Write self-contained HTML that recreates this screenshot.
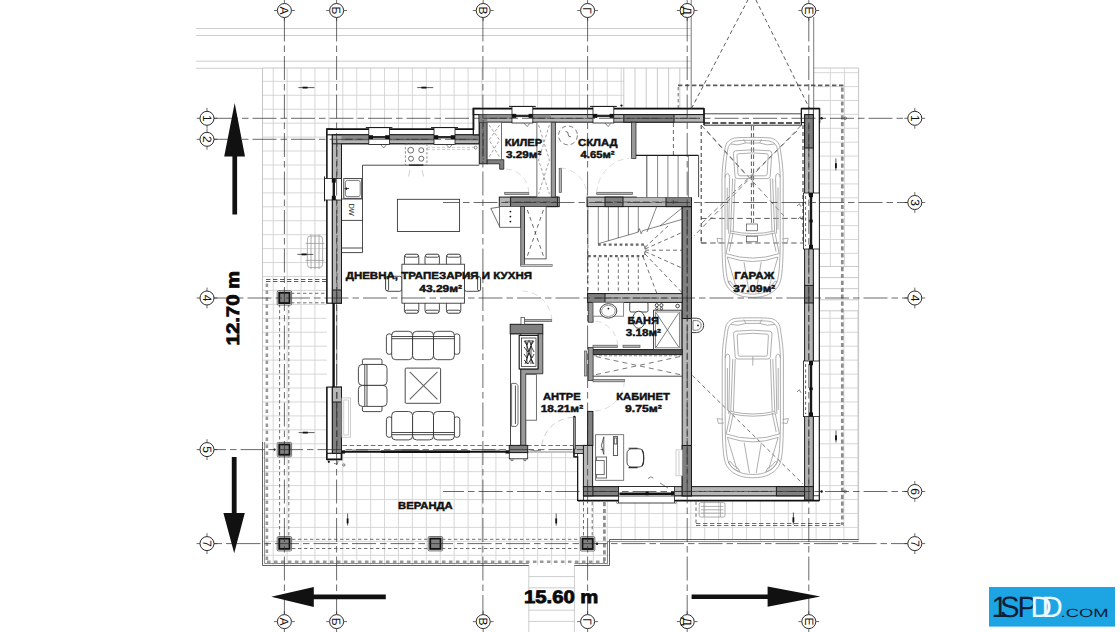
<!DOCTYPE html>
<html lang="bg">
<head>
<meta charset="utf-8">
<title>План на етаж</title>
<style>
html,body{margin:0;padding:0;background:#fff;}
body{width:1120px;height:632px;overflow:hidden;font-family:"Liberation Sans",sans-serif;}
svg{display:block;}
text{text-rendering:geometricPrecision;}
.k{stroke:#1a1a1a;stroke-width:0.8;fill:none;}
.kw{stroke:#1a1a1a;stroke-width:0.8;fill:#fff;}
.th{stroke:#333;stroke-width:0.6;fill:none;}
.fu{stroke:#2c2c2c;stroke-width:0.85;fill:#fff;}
.fl{stroke:#2c2c2c;stroke-width:0.85;fill:none;}
.lg{stroke:#b9b9b9;stroke-width:0.7;fill:none;}
.tile{stroke:#d2d2d2;stroke-width:0.9;fill:none;}
.ol{stroke:#9a9a9a;stroke-width:0.8;fill:none;}
.gr{stroke:#2a2a2a;stroke-width:0.7;fill:none;}
.wd{stroke:#1a1a1a;stroke-width:0.8;fill:#7e7e7e;}
.wl{stroke:#1a1a1a;stroke-width:0.8;fill:#b4b4b4;}
.wn{stroke:none;fill:#8a8a8a;}
.wm{stroke:none;fill:#b8b8b8;}
.car{stroke:#9a9a9a;stroke-width:0.8;fill:none;}
.carw{stroke:#a9a9a9;stroke-width:0.8;fill:#fff;}
.bk{stroke:none;fill:#111;}
.t{font-family:"Liberation Sans",sans-serif;font-weight:bold;fill:#111;stroke:#111;stroke-width:0.45;}
.tb{font-family:"Liberation Sans",sans-serif;font-weight:bold;fill:#0a0a0a;stroke:#0a0a0a;stroke-width:0.8;}
.c{font-family:"Liberation Sans",sans-serif;fill:#111;font-size:12px;text-anchor:middle;}
.sm{font-family:"Liberation Sans",sans-serif;fill:#222;font-size:7.4px;text-anchor:middle;}
</style>
</head>
<body>
<svg width="1120" height="632" viewBox="0 0 1120 632">
<rect x="0" y="0" width="1120" height="632" fill="#fff"/>
<defs>
<clipPath id="cpTile"><path d="M262.5 68H623.8V112H813.6V310.8H858.6V540.5H608.8V565H262.5Z"/></clipPath>
<clipPath id="cpStripe"><rect x="623.8" y="68" width="67.4" height="42"/></clipPath>
</defs>
<g clip-path="url(#cpTile)">
<path class="tile" d="M259.28 68V566M273.2 68V566M287.12 68V566M301.04 68V566M314.96 68V566M328.88 68V566M342.8 68V566M356.72 68V566M370.64 68V566M384.56 68V566M398.48 68V566M412.4 68V566M426.32 68V566M440.24 68V566M454.16 68V566M468.08 68V566M482 68V566M495.92 68V566M509.84 68V566M523.76 68V566M537.68 68V566M551.6 68V566M565.52 68V566M579.44 68V566M593.36 68V566M607.28 68V566M621.2 68V566M635.12 68V566M649.04 68V566M662.96 68V566M676.88 68V566M690.8 68V566M704.72 68V566M718.64 68V566M732.56 68V566M746.48 68V566M760.4 68V566M774.32 68V566M788.24 68V566M802.16 68V566M816.08 68V566M830 68V566M843.92 68V566M857.84 68V566M262 81.34H859M262 95.28H859M262 109.22H859M262 123.16H859M262 137.1H859M262 151.04H859M262 164.98H859M262 178.92H859M262 192.86H859M262 206.8H859M262 220.74H859M262 234.68H859M262 248.62H859M262 262.56H859M262 276.5H859M262 290.44H859M262 304.38H859M262 318.32H859M262 332.26H859M262 346.2H859M262 360.14H859M262 374.08H859M262 388.02H859M262 401.96H859M262 415.9H859M262 429.84H859M262 443.78H859M262 457.72H859M262 471.66H859M262 485.6H859M262 499.54H859M262 513.48H859M262 527.42H859M262 541.36H859M262 555.3H859"/>
</g>
<path class="tile" d="M830.4 68.3V266.5 M844.5 68.3V266.5M813.6 72.7H858.6M813.6 86.6H858.6M813.6 100.5H858.6M813.6 114.4H858.6M813.6 128.3H858.6M813.6 142.2H858.6M813.6 156.1H858.6M813.6 170H858.6M813.6 183.9H858.6M813.6 197.8H858.6M813.6 211.7H858.6M813.6 225.6H858.6M813.6 239.5H858.6M813.6 253.4H858.6"/>
<path class="tile" style="stroke:#c4c4c4" d="M623.8 68V110M635 68V110M646.2 68V110M657.4 68V110M668.6 68V110M679.8 68V110"/>
<path class="tile" style="stroke:#c4c4c4" d="M819.6 266.5H858.6 M819.6 277.6H858.6 M819.6 288.7H858.6 M819.6 299.8H858.6 M819.6 310.8H858.6"/>
<path class="tile" style="stroke:#c0c0c0" d="M262.5 68V443 M262.5 68H691 M858.6 68V540.5 M813.6 68H858.6"/>
<line class="lg" x1="196" y1="28.5" x2="691" y2="28.5"/>
<line class="lg" x1="196" y1="35.5" x2="691" y2="35.5"/>
<line class="lg" x1="196" y1="61.2" x2="691" y2="61.2"/>
<line class="lg" x1="196" y1="68.3" x2="262.5" y2="68.3"/>
<path class="lg" d="M528.8 565V632 M574.4 565V632M528.8 576.6H574.4M528.8 587.8H574.4M528.8 599H574.4M528.8 610.2H574.4M528.8 621.4H574.4"/>
<path class="k" style="stroke-width:1.9;stroke-dasharray:4.4 2.6;stroke:#5c5c5c" d="M678 85.4H843.6"/>
<path class="k" style="stroke-width:2.7;stroke-dasharray:4.2 2.7;stroke:#8c8c8c" d="M842.3 87.6V525"/>
<path class="k" style="stroke-width:0.9;stroke-dasharray:4.4 2.6;stroke:#5c5c5c" d="M696 523.5H843.6 M696 525.5H843.6"/>
<path class="k" style="stroke-width:0.8;stroke-dasharray:3.4 2.6;stroke:#444" d="M678.2 87V109"/>
<path class="k" style="stroke-width:0.9;stroke-dasharray:3.4 2.6;stroke:#555" d="M696 501.5V524"/>
<path class="k" style="stroke-width:2.6;stroke-dasharray:3.6 3.4;stroke:#999" d="M266.9 283.5V562"/>
<path class="k" style="stroke-width:0.9;stroke-dasharray:4.4 2.6;stroke:#4a4a4a" d="M266 279.5H327.3 M266 281.5H327.3"/>
<path class="k" style="stroke-width:2.6;stroke-dasharray:3.6 3.4;stroke:#999" d="M266.9 561.8H605"/>
<path class="k" style="stroke-width:2.7;stroke-dasharray:4.2 2.7;stroke:#8c8c8c" d="M604.4 502V561"/>
<path class="k" style="stroke-width:0.7;stroke-dasharray:3.4 2.6;stroke:#333" d="M279.6 304V537 M288.8 304V537"/>
<path class="k" style="stroke-width:0.7;stroke-dasharray:3.4 2.6;stroke:#333" d="M291 293.3H327 M291 302.8H327"/>
<path class="k" style="stroke-width:0.7;stroke-dasharray:3.4 2.6;stroke:#333" d="M292 539.3H428 M292 548.5H428 M442 539.3H580 M442 548.5H580"/>
<path class="k" style="stroke-width:0.7;stroke-dasharray:3.4 2.6;stroke:#333" d="M583.5 502V537 M592.2 502V537"/>
<path class="k" style="stroke-width:0.85;stroke:#444" d="M262.5 442V565.5H528.8 M574.4 565.5H609.5V539.5H858.6"/>
<path class="k" style="stroke-width:0.75;stroke:#666" d="M264.6 442V563.5H528.8 M574.4 563.5H607.5V541.6H858.6"/>
<path d="M326.8 129.1H473.4V108.5H819.7V500.6H577.5V453H341.5V459.5H326.8Z" fill="#fff" stroke="none"/>
<rect class="kw" style="stroke-width:1.15" x="326.8" y="129.1" width="5.6" height="174.1"/>
<rect class="k" style="fill:#b6b6b6;stroke-width:1" x="332.4" y="134.8" width="9.1" height="168.4"/>
<rect class="k" style="fill:#808080;stroke-width:1" x="332.4" y="290" width="9.1" height="13.2"/>
<rect class="kw" style="stroke-width:1.15" x="326.8" y="387.1" width="5.6" height="72.4"/>
<rect class="kw" style="stroke-width:1.15" x="326.8" y="453.3" width="14.7" height="6.2"/>
<rect class="k" style="fill:#808080;stroke-width:1" x="332.4" y="387.1" width="9.1" height="66.2"/>
<rect class="k" style="fill:#b6b6b6;stroke-width:1" x="332.4" y="387.1" width="9.1" height="14.9"/>
<line class="k" style="stroke-width:2.4;stroke:#111" x1="333.6" y1="303.2" x2="333.6" y2="387.1"/>
<line class="th" x1="336.8" y1="305" x2="336.8" y2="385"/>
<rect class="kw" style="stroke-width:1.15" x="326.8" y="129.1" width="146.6" height="5.7"/>
<rect class="k" style="fill:#b6b6b6;stroke-width:1" x="332.4" y="134.8" width="146.9" height="9"/>
<rect class="wn" x="341.5" y="134.8" width="137.8" height="5.8"/>
<line class="k" x1="332.4" y1="134.8" x2="479.3" y2="134.8"/>
<line class="k" x1="341.5" y1="143.8" x2="479.3" y2="143.8"/>
<rect class="kw" style="stroke-width:1.15" x="473.4" y="108.5" width="5.9" height="26.3"/>
<rect class="k" style="fill:#808080;stroke-width:1" x="479.3" y="114.6" width="7.9" height="49.2"/>
<path class="k" style="fill:#808080" d="M487.2 159.7H503.8V169.2H499.7V163.8H487.2Z"/>
<rect class="kw" style="stroke-width:1.15" x="473.4" y="108.5" width="230.6" height="6.1"/>
<rect class="k" style="fill:#b6b6b6;stroke-width:1" x="479.3" y="114.6" width="224.7" height="7.6"/>
<rect class="wm" style="fill:#8e8e8e" x="487.2" y="114.6" width="63.8" height="4"/>
<rect class="k" style="fill:#808080;stroke-width:1" x="623.8" y="114.6" width="50.2" height="7.6"/>
<rect class="wn" style="fill:#808080" x="479.3" y="114.6" width="7.9" height="7.6"/>
<line class="k" style="stroke-width:1" x1="704" y1="108.5" x2="704" y2="125"/>
<rect class="kw" style="stroke-width:1.15" x="801.4" y="108.5" width="18.3" height="14.1"/>
<rect class="kw" style="stroke-width:0.8" x="813.3" y="108.5" width="6" height="392.1"/>
<rect class="k" style="fill:#b6b6b6;stroke-width:1" x="804.6" y="114.6" width="8.7" height="381.2"/>
<rect class="k" style="fill:#808080;stroke-width:1" x="804.6" y="114.6" width="8.7" height="33.4"/>
<rect class="k" style="fill:#808080;stroke-width:1" x="804.6" y="285.4" width="8.7" height="17.6"/>
<rect class="kw" style="stroke-width:0.8" x="577.5" y="495.8" width="241.8" height="4.8"/>
<rect class="k" style="fill:#b6b6b6;stroke-width:1" x="583.5" y="486.6" width="229.8" height="9.2"/>
<rect class="k" style="fill:#808080;stroke-width:1" x="583.5" y="486.6" width="35.1" height="9.2"/>
<rect class="k" style="fill:#808080;stroke-width:1" x="776.4" y="486.6" width="36.9" height="9.2"/>
<rect class="k" style="fill:#808080;stroke-width:1" x="804.6" y="486.6" width="8.7" height="13.6"/>
<path class="k" style="stroke-width:1" d="M573.9 445.4V456.8H577.6V500.6"/>
<rect class="k" style="fill:#b6b6b6;stroke-width:0.9" x="573.9" y="445.4" width="13.7" height="8.2"/>
<rect class="kw" style="stroke-width:0.8" x="577.6" y="453.6" width="5.8" height="47"/>
<rect class="k" style="fill:#b6b6b6;stroke-width:1" x="583.4" y="445.4" width="9.2" height="41.6"/>
<rect class="k" style="fill:#808080;stroke-width:1" x="587.6" y="411.4" width="5.3" height="34"/>
<rect class="k" style="fill:#808080;stroke-width:1" x="583.4" y="486.6" width="9.5" height="9.2"/>
<rect class="k" style="fill:#b6b6b6;stroke-width:1" x="682.2" y="206.6" width="9.3" height="289.2"/>
<rect class="k" style="fill:#808080;stroke-width:1" x="682.2" y="206.6" width="9.3" height="111.9"/>
<rect class="k" style="fill:#808080;stroke-width:1" x="682.2" y="445.5" width="9.3" height="50.3"/>
<rect class="k" style="fill:#b6b6b6;stroke-width:1" x="499.3" y="197.1" width="59.9" height="9.5"/>
<rect class="k" style="fill:#808080;stroke-width:1" x="510.6" y="197.1" width="46.8" height="9.5"/>
<rect class="k" style="fill:#b6b6b6;stroke-width:1" x="587" y="197.1" width="104.5" height="9.5"/>
<rect class="k" style="fill:#808080;stroke-width:1" x="605" y="197.1" width="18" height="9.5"/>
<rect class="k" style="fill:#808080;stroke-width:1" x="666" y="197.1" width="25.5" height="9.5"/>
<rect class="k" style="fill:#b6b6b6;stroke-width:1" x="587.6" y="293.6" width="94.6" height="8.8"/>
<rect class="k" style="fill:#808080;stroke-width:1" x="587.6" y="293.6" width="17.4" height="8.8"/>
<rect class="k" style="fill:#9a9a9a;stroke-width:0.7" x="551.2" y="122.2" width="4.4" height="74.9"/>
<rect class="k" style="fill:#9a9a9a;stroke-width:0.7" x="631.6" y="122.2" width="4.4" height="36.3"/>
<rect class="k" style="fill:#9a9a9a;stroke-width:0.7" x="588.2" y="302.4" width="4.9" height="19.8"/>
<rect class="k" style="fill:#555;stroke-width:1" x="591.6" y="349.6" width="90.6" height="5"/>
<rect class="k" style="fill:#9a9a9a;stroke-width:0.7" x="588.2" y="347.5" width="4.9" height="33"/>
<rect class="kw" style="stroke-width:0.8" x="510.4" y="333.8" width="10.4" height="111.6"/>
<rect class="k" style="fill:#808080;stroke-width:1" x="510.2" y="324.3" width="32.6" height="9.5"/>
<path class="k" style="fill:#9a9a9a" d="M538 333.8H542.8V373.8H525.8V445.4H520.8V369H538Z"/>
<rect class="kw" style="stroke-width:1.15" x="519.2" y="335.4" width="18.8" height="33.6"/>
<rect class="kw" style="stroke-width:0.7" x="521.4" y="338" width="14.6" height="28.6"/>
<path class="k" style="stroke-width:0.8" d="M524 341l3 4l2-5l2 5l3-4 M524 347l4 5l3-6l3 6 M524 354l3 4l2-5l3 5l2-4 M524 360l4 4l3-5l3 5 M525 340l8 24 M533 340l-8 24 M527 340v24 M531 340v24"/>
<rect class="kw" style="stroke-width:0.8" x="509.3" y="452.4" width="18.4" height="6.4"/>
<rect class="k" style="fill:#808080;stroke-width:1" x="509.3" y="445.4" width="18.4" height="7.2"/>
<path class="th" d="M511 458.8v1.8h2v-1.8 M524 458.8v1.8h2v-1.8"/>
<path class="k" style="stroke-width:1.6;stroke:#111" d="M326.3 129.2H473.5V108.6H704 M801.4 108.6H819.4 M819.4 500.6H577.7 M326.9 459.4H341.5V453"/>
<path class="k" style="stroke-width:1.2;stroke:#1a1a1a" d="M326.9 303.2V129.2 M473.5 129.2V108.6 M326.9 387.1V459.4 M577.7 500.6V456.8H574V445.4"/>
<line class="k" style="stroke-width:1;stroke:#222" x1="819.3" y1="108.6" x2="819.3" y2="500.6"/>
<line class="k" style="stroke-width:0.7;stroke-dasharray:7 2.5;stroke:#3a3a3a" x1="337" y1="140" x2="337" y2="300"/>
<line class="k" style="stroke-width:0.7;stroke-dasharray:7 2.5;stroke:#3a3a3a" x1="337" y1="392" x2="337" y2="450"/>
<line class="k" style="stroke-width:0.7;stroke-dasharray:7 2.5;stroke:#3a3a3a" x1="345" y1="139.3" x2="476" y2="139.3"/>
<line class="k" style="stroke-width:0.7;stroke-dasharray:7 2.5;stroke:#3a3a3a" x1="483.2" y1="120" x2="483.2" y2="160"/>
<line class="k" style="stroke-width:0.7;stroke-dasharray:7 2.5;stroke:#3a3a3a" x1="490" y1="118.3" x2="700" y2="118.3"/>
<line class="k" style="stroke-width:0.7;stroke-dasharray:7 2.5;stroke:#3a3a3a" x1="808.8" y1="125" x2="808.8" y2="486"/>
<line class="k" style="stroke-width:0.7;stroke-dasharray:7 2.5;stroke:#3a3a3a" x1="590" y1="491.4" x2="805" y2="491.4"/>
<line class="k" style="stroke-width:0.7;stroke-dasharray:7 2.5;stroke:#3a3a3a" x1="687.2" y1="210" x2="687.2" y2="484"/>
<line class="k" style="stroke-width:0.7;stroke-dasharray:7 2.5;stroke:#3a3a3a" x1="595" y1="202" x2="680" y2="202"/>
<line class="k" style="stroke-width:0.7;stroke-dasharray:7 2.5;stroke:#3a3a3a" x1="595" y1="298" x2="680" y2="298"/>
<line class="k" style="stroke-width:0.7;stroke-dasharray:7 2.5;stroke:#3a3a3a" x1="505" y1="202" x2="556" y2="202"/>
<rect class="kw" style="stroke-width:0.8" x="368.8" y="127.6" width="20.6" height="16.8"/>
<line class="k" style="stroke-width:1" x1="365.8" y1="127.6" x2="392.4" y2="127.6"/>
<line class="k" style="stroke-width:2.4;stroke:#2a2a2a" x1="370.8" y1="137.2" x2="387.4" y2="137.2"/>
<rect class="bk" x="368.8" y="135.2" width="4.2" height="4"/>
<rect class="bk" x="385.2" y="135.2" width="4.2" height="4"/>
<path class="th" d="M380.4 144.4l3.4 3.6l2.6-3.2"/>
<rect class="kw" style="stroke-width:0.8" x="434" y="127.6" width="21" height="16.8"/>
<line class="k" style="stroke-width:1" x1="431" y1="127.6" x2="458" y2="127.6"/>
<line class="k" style="stroke-width:2.4;stroke:#2a2a2a" x1="436" y1="137.2" x2="453" y2="137.2"/>
<rect class="bk" x="434" y="135.2" width="4.2" height="4"/>
<rect class="bk" x="450.8" y="135.2" width="4.2" height="4"/>
<path class="th" d="M446 144.4l3.4 3.6l2.6-3.2"/>
<rect class="kw" style="stroke-width:0.8" x="512" y="106.4" width="20.8" height="16.6"/>
<line class="k" style="stroke-width:1" x1="509" y1="106.4" x2="535.8" y2="106.4"/>
<line class="k" style="stroke-width:2.4;stroke:#2a2a2a" x1="514" y1="115.9" x2="530.8" y2="115.9"/>
<rect class="bk" x="512" y="113.9" width="4.2" height="4"/>
<rect class="bk" x="528.6" y="113.9" width="4.2" height="4"/>
<path class="th" d="M523.8 123l3.4 3.6l2.6-3.2"/>
<rect class="kw" style="stroke-width:0.8" x="593" y="106.4" width="20.8" height="16.6"/>
<line class="k" style="stroke-width:1" x1="590" y1="106.4" x2="616.8" y2="106.4"/>
<line class="k" style="stroke-width:2.4;stroke:#2a2a2a" x1="595" y1="115.9" x2="611.8" y2="115.9"/>
<rect class="bk" x="593" y="113.9" width="4.2" height="4"/>
<rect class="bk" x="609.6" y="113.9" width="4.2" height="4"/>
<path class="th" d="M604.8 123l3.4 3.6l2.6-3.2"/>
<circle class="bk" cx="621.5" cy="105.6" r="1.1"/>
<rect class="kw" style="stroke-width:0.8" x="324.6" y="178.4" width="16.8" height="21.6"/>
<line class="k" style="stroke-width:2.4;stroke:#1a1a1a" x1="333.8" y1="180.4" x2="333.8" y2="198"/>
<rect class="bk" x="331.8" y="178.4" width="4" height="4.2"/>
<rect class="bk" x="331.8" y="195.8" width="4" height="4.2"/>
<line class="k" style="stroke-width:0.9" x1="324.5" y1="176.4" x2="324.5" y2="201.4"/>
<rect class="kw" style="stroke-width:0.8" x="803.4" y="193" width="15.9" height="56"/>
<line class="k" style="stroke-width:2.4;stroke:#1a1a1a" x1="811" y1="195" x2="811" y2="247"/>
<rect class="bk" x="809" y="193" width="4" height="4.2"/>
<rect class="bk" x="809" y="244.8" width="4" height="4.2"/>
<rect class="bk" x="809.3" y="219.6" width="3.4" height="2.8"/>
<rect class="kw" style="stroke-width:0.8" x="803.4" y="361" width="15.9" height="55.6"/>
<line class="k" style="stroke-width:2.4;stroke:#1a1a1a" x1="811" y1="363" x2="811" y2="414.6"/>
<rect class="bk" x="809" y="361" width="4" height="4.2"/>
<rect class="bk" x="809" y="412.4" width="4" height="4.2"/>
<rect class="bk" x="809.3" y="387.4" width="3.4" height="2.8"/>
<line class="k" style="stroke-width:0.7;stroke-dasharray:3 2.4" x1="805.6" y1="196" x2="805.6" y2="246"/>
<line class="k" style="stroke-width:0.7;stroke-dasharray:3 2.4" x1="805.6" y1="364" x2="805.6" y2="414"/>
<path class="th" d="M797 206l2.4-2.2l1.6 3 M797 392l2.4-2.2l1.6 3"/>
<rect class="kw" style="stroke-width:0.8" x="618.6" y="486.5" width="56" height="16.5"/>
<line class="k" style="stroke-width:2.8;stroke:#111" x1="619.4" y1="493.8" x2="674" y2="493.8"/>
<line class="th" x1="618.6" y1="496.2" x2="674.6" y2="496.2"/>
<rect class="bk" x="645.6" y="491.6" width="3" height="3.6"/>
<rect class="bk" x="671" y="491.4" width="3" height="4"/>
<path class="th" d="M616.2 501.5l1.4 2.6 M676.8 501.5l-1.4 2.6"/>
<path class="th" d="M648 478.5q3-3 5.4-.4 M660 483l8 5"/>
<line class="k" style="stroke-width:0.7;stroke-dasharray:4.5 2.6;stroke:#333" x1="342.5" y1="445.5" x2="575" y2="445.5"/>
<line class="k" style="stroke-width:1.9;stroke:#111" x1="342.5" y1="451.8" x2="509" y2="451.8"/>
<line class="k" style="stroke-width:2.6;stroke:#111" x1="381" y1="451.8" x2="470" y2="451.8"/>
<rect class="bk" x="341.6" y="450.4" width="3.4" height="3.2"/>
<rect class="bk" x="505.6" y="450.4" width="3.4" height="3.2"/>
<line class="th" x1="352" y1="450" x2="368" y2="450"/>
<line class="th" x1="402" y1="450" x2="420" y2="450"/>
<line class="th" x1="484" y1="450" x2="500" y2="450"/>
<circle class="bk" cx="328.8" cy="461.8" r="1.1"/>
<circle class="th" cx="343.8" cy="465" r="1.2"/>
<path class="th" d="M334 463.4l3.4 .8l.6-3.2"/>
<line class="th" x1="527.7" y1="452" x2="575" y2="452"/>
<path class="th" d="M529 449.6l6 1.2l6-.6"/>
<rect class="k" style="fill:#9a9a9a;stroke-width:0.6" x="573.3" y="416.8" width="2.2" height="32.2"/>
<path class="lg" style="stroke-dasharray:6 4" d="M573.5 417.5A32 32 0 0 0 541.5 449"/>
<circle class="bk" cx="574.4" cy="416.6" r="0.9"/>
<line class="k" style="stroke-width:0.8" x1="704" y1="113.8" x2="801.4" y2="113.8"/>
<line class="k" style="stroke-width:1.6;stroke-dasharray:6 2.2;stroke:#222" x1="704" y1="123" x2="801.4" y2="123"/>
<line class="k" style="stroke-width:0.9" x1="704" y1="125.2" x2="801.4" y2="125.2"/>
<line class="k" style="stroke-width:1.1" x1="704" y1="108.5" x2="704" y2="125.2"/>
<line class="k" style="stroke-width:1.1" x1="801.4" y1="108.5" x2="801.4" y2="125.2"/>
<path class="k" style="stroke-width:1;stroke-dasharray:4 3;stroke:#333" d="M701.2 125V243 M803 125V243"/>
<path class="k" style="stroke-width:0.8;stroke-dasharray:5.5 3.5;stroke:#333" d="M701.2 243H803 M701.2 218.4H803"/>
<path class="k" style="stroke-width:0.8;stroke-dasharray:4.5 2.6;stroke:#333" d="M751.4 126V224 M753.6 126V224"/>
<path class="k" style="stroke-width:0.7;stroke-dasharray:5 3.5;stroke:#444" d="M701.5 125.5L747 176 M801 125.5L694 236 M707 131L784 216 M797 131L699 226"/>
<rect class="th" x="746.6" y="224" width="11" height="6.8"/>
<rect class="th" x="746.6" y="236.2" width="11" height="5.6"/>
<path class="th" d="M701.2 238v5h5 M798 219l2.4-2.2l1.6 3"/>
<path class="k" style="stroke-width:0.8;stroke-dasharray:4 3;stroke:#444" d="M673.4 123V206"/>
<path class="k" style="stroke-width:0.8;stroke-dasharray:4 3;stroke:#333" d="M691.5 108.5L752 -8L809.5 108.5"/>
<path class="k" style="stroke-width:0.7;stroke-dasharray:4 3;stroke:#333" d="M692.4 375.5L803 484"/>
<line class="k" style="stroke-width:0.7;stroke:#444" x1="691.2" y1="0" x2="691.2" y2="108.5"/>
<line class="k" style="stroke-width:0.7;stroke:#444" x1="813.7" y1="17" x2="813.7" y2="108.5"/>
<rect class="k" style="fill:#b4b4b4;stroke-width:0.7;stroke:#555" x="504.7" y="192.3" width="24.1" height="2.1"/>
<rect class="k" style="fill:#b4b4b4;stroke-width:0.7;stroke:#555" x="596.7" y="192.3" width="35.8" height="2.1"/>
<rect class="k" style="fill:#b4b4b4;stroke-width:0.7;stroke:#555" x="559.2" y="168.6" width="2.4" height="23.8"/>
<rect class="k" style="fill:#b4b4b4;stroke-width:0.7;stroke:#555" x="521.3" y="319.6" width="30.4" height="2"/>
<rect class="kw" style="stroke-width:0.6" x="521" y="317.6" width="3.6" height="6.7"/>
<rect class="k" style="fill:#b4b4b4;stroke-width:0.7;stroke:#555" x="593" y="345.2" width="24.5" height="2.2"/>
<rect class="k" style="fill:#b4b4b4;stroke-width:0.7;stroke:#555" x="623" y="345.2" width="17" height="2.2"/>
<rect class="k" style="fill:#b4b4b4;stroke-width:0.7;stroke:#555" x="593" y="379.6" width="31.4" height="2.2"/>
<rect class="k" style="fill:#b4b4b4;stroke-width:0.7;stroke:#555" x="584.4" y="351" width="2.4" height="25"/>
<path class="lg" style="stroke-width:0.5;stroke-dasharray:6 4" d="M528.8 193A24 24 0 0 0 504.7 169"/>
<path class="lg" style="stroke-width:0.5;stroke-dasharray:6 4" d="M596.7 193A36 36 0 0 1 632.5 158"/>
<path class="lg" style="stroke-width:0.5;stroke-dasharray:6 4" d="M560 168A28 28 0 0 1 587 196"/>
<path class="lg" style="stroke-width:0.5;stroke-dasharray:6 4" d="M551.7 320.5A30 30 0 0 0 522 291"/>
<path class="lg" style="stroke-width:0.5;stroke-dasharray:6 4" d="M617.5 346A25 25 0 0 0 593 321"/>
<path class="lg" style="stroke-width:0.5;stroke-dasharray:6 4" d="M624.4 381A31 31 0 0 1 593.5 411"/>
<rect class="wn" style="fill:#fff" x="636.8" y="155.2" width="61.7" height="42"/>
<path class="k" style="stroke-width:0.8" d="M646.8 155.4V197.2 M698.6 155.4V197.2"/>
<line class="k" style="stroke-width:1.4" x1="636" y1="155.4" x2="698.5" y2="155.4"/>
<path class="th" d="M657.6 155.4V197.2M667.9 155.4V197.2M678.1 155.4V197.2M688.4 155.4V197.2"/>
<path class="th" d="M587.9 206.6V244.4M598.3 206.6V243.8M608.4 206.6V240.8M618.3 206.6V238M628.4 206.6V235M638.3 206.6V232.2"/>
<path class="th" d="M598.3 243.7L638 232.2l1.4-3.6l1.8 5.2l1.2-3L682.2 219.4"/>
<path class="th" d="M647 232L656.7 206.6 M660 226L682 208"/>
<path class="k" style="stroke-width:2.3;stroke-dasharray:2.8 2.6;stroke:#666" d="M598 244.6H644 M588 256.2H644"/>
<path class="k" style="stroke-width:0.8;stroke-dasharray:3.4 2.6;stroke:#333" d="M587.9 245V293 M644.8 245.5V256"/>
<path class="k" style="stroke-width:0.7;stroke-dasharray:3.4 2.6;stroke:#333" d="M598.3 257.5V293.4M608.4 257.5V293.4M618.3 257.5V293.4M628.4 257.5V293.4M638.3 257.5V293.4"/>
<path class="k" style="stroke-width:0.7;stroke-dasharray:4 3;stroke:#333" d="M645 249L682 232.5 M645 250.2H682 M645 251.5L682 268 M645 254L682 292.6 M643 256.5L656.8 293.4 M645 247.5L668 226"/>
<path class="fl" d="M362.5 248V165.2H479.3"/>
<line class="fl" x1="341.5" y1="248" x2="362.5" y2="248"/>
<line class="fl" x1="341.5" y1="252.6" x2="362.5" y2="252.6"/>
<line class="fl" x1="362.5" y1="248" x2="362.5" y2="252.6"/>
<line class="fl" x1="341.5" y1="220.4" x2="362.5" y2="220.4"/>
<line class="fl" x1="341.5" y1="199" x2="362.5" y2="199"/>
<rect class="fl" style="stroke-dasharray:2.4 1.8;stroke:#777" x="405.4" y="144.2" width="21.5" height="21"/>
<circle class="fl" style="stroke:#555" cx="410.7" cy="150.2" r="2.9"/>
<circle class="fl" style="stroke:#555" cx="421.3" cy="150.2" r="2.5"/>
<circle class="fl" style="stroke:#555" cx="411" cy="158.7" r="2.5"/>
<circle class="fl" style="stroke:#555" cx="421.3" cy="158.7" r="2.5"/>
<path class="lg" d="M410 170l-1.4 6.4 M422 170l1.6 6.4"/>
<line class="k" style="stroke-width:1.3" x1="409" y1="165.1" x2="423.4" y2="165.1"/>
<path class="lg" style="stroke-dasharray:3 2" d="M427 147.4H476 M427 149.6H470"/>
<circle class="fl" style="stroke:#777" cx="475.6" cy="147.6" r="1.5"/>
<rect class="fu" x="343.8" y="178.6" width="17.9" height="19.7"/>
<rect class="fu" style="stroke:#666" x="345.4" y="180.4" width="14.8" height="16.2" rx="2"/>
<path class="k" style="stroke-width:0.9" d="M344.5 188.6h4.5 M346.4 187.4v2.6"/>
<text class="sm" transform="translate(352 209.6) rotate(90)" x="0" y="2.6">DW</text>
<rect class="fu" x="397.4" y="199.3" width="62.2" height="32.2"/>
<g transform="translate(411.6 259.6) rotate(0)">
<rect class="fu" x="-7.2" y="-5" width="14.4" height="11" rx="2.4"/>
<rect class="fu" x="-6.6" y="-5.4" width="13.2" height="3" rx="1.4"/>
</g>
<g transform="translate(411.6 307.8) rotate(180)">
<rect class="fu" x="-7.2" y="-5" width="14.4" height="11" rx="2.4"/>
<rect class="fu" x="-6.6" y="-5.4" width="13.2" height="3" rx="1.4"/>
</g>
<g transform="translate(432.2 259.6) rotate(0)">
<rect class="fu" x="-7.2" y="-5" width="14.4" height="11" rx="2.4"/>
<rect class="fu" x="-6.6" y="-5.4" width="13.2" height="3" rx="1.4"/>
</g>
<g transform="translate(432.2 307.8) rotate(180)">
<rect class="fu" x="-7.2" y="-5" width="14.4" height="11" rx="2.4"/>
<rect class="fu" x="-6.6" y="-5.4" width="13.2" height="3" rx="1.4"/>
</g>
<g transform="translate(453.6 259.6) rotate(0)">
<rect class="fu" x="-7.2" y="-5" width="14.4" height="11" rx="2.4"/>
<rect class="fu" x="-6.6" y="-5.4" width="13.2" height="3" rx="1.4"/>
</g>
<g transform="translate(453.6 307.8) rotate(180)">
<rect class="fu" x="-7.2" y="-5" width="14.4" height="11" rx="2.4"/>
<rect class="fu" x="-6.6" y="-5.4" width="13.2" height="3" rx="1.4"/>
</g>
<g transform="translate(391 283.8) rotate(-90)">
<rect class="fu" x="-7.5" y="-5" width="15" height="16" rx="2.4"/>
<rect class="fu" x="-6.9" y="-5.4" width="13.8" height="3" rx="1.4"/>
</g>
<g transform="translate(475.2 283.8) rotate(90)">
<rect class="fu" x="-7.5" y="-5" width="15" height="16" rx="2.4"/>
<rect class="fu" x="-6.9" y="-5.4" width="13.8" height="3" rx="1.4"/>
</g>
<rect class="fu" x="401.9" y="264.2" width="62.5" height="39"/>
<g transform="translate(386.4 331.3)">
<rect class="fu" x="0" y="2.6" width="6" height="20.4" rx="2.6"/>
<rect class="fu" x="67.4" y="2.6" width="6" height="20.4" rx="2.6"/>
<rect class="fu" x="5.3" y="0" width="20.9" height="28.4" rx="4"/>
<rect class="fu" x="26.2" y="0" width="20.9" height="28.4" rx="4"/>
<rect class="fu" x="47.1" y="0" width="20.9" height="28.4" rx="4"/>
<path class="fl" d="M5.6 5.2H68 M5.6 7.4H68"/>
</g>
<g transform="translate(386.4 439.9) scale(1 -1)">
<rect class="fu" x="0" y="2.6" width="6" height="20.4" rx="2.6"/>
<rect class="fu" x="67.4" y="2.6" width="6" height="20.4" rx="2.6"/>
<rect class="fu" x="5.3" y="0" width="20.9" height="28.4" rx="4"/>
<rect class="fu" x="26.2" y="0" width="20.9" height="28.4" rx="4"/>
<rect class="fu" x="47.1" y="0" width="20.9" height="28.4" rx="4"/>
<path class="fl" d="M5.6 5.2H68 M5.6 7.4H68"/>
</g>
<g transform="translate(358.4 359)">
<rect class="fu" x="4" y="0" width="19.6" height="6" rx="1.6"/>
<rect class="fu" x="4" y="46.6" width="19.6" height="6" rx="1.6"/>
<rect class="fu" x="0" y="5.4" width="28.6" height="21" rx="4"/>
<rect class="fu" x="0" y="26.4" width="28.6" height="21" rx="4"/>
<path class="fl" d="M6.4 5.6V47 M8.6 5.6V47"/>
</g>
<rect class="fu" x="405.2" y="368.1" width="35.4" height="35.2" rx="1"/>
<path class="fl" style="stroke-width:1.1;stroke:#666" d="M409.7 371.8L437.4 399.4 M437.4 371.8L409.7 399.4"/>
<path class="fu" style="stroke:#555" d="M511.6 383.4h4.6l1.8 2.2V424l-1.8 2.4h-4.6Z"/>
<line class="fl" x1="515.4" y1="385.6" x2="515.4" y2="424"/>
<rect class="fu" style="stroke:#555" x="525.8" y="374.6" width="10.6" height="45.6"/>
<rect class="lg" style="fill:#fff" x="341.9" y="397.9" width="8.5" height="39.3"/>
<rect class="lg" x="343.8" y="400" width="4.8" height="35"/>
<rect class="lg" style="fill:#fff" x="676" y="449.9" width="6.2" height="25.9"/>
<line class="lg" x1="679" y1="451" x2="679" y2="475"/>
<rect class="fu" style="stroke:#555" x="499.6" y="206.6" width="21.2" height="20.7"/>
<circle class="bk" cx="510.4" cy="211.6" r="0.9"/>
<circle class="bk" cx="510.4" cy="216.6" r="0.9"/>
<circle class="bk" cx="510.4" cy="221.6" r="0.9"/>
<path class="fl" style="stroke:#555" d="M499.6 207L490.8 208.4L499.6 226.6"/>
<rect class="fu" style="stroke:#444" x="524.6" y="206.6" width="21.5" height="52.3"/>
<path class="k" style="stroke-width:0.8;stroke-dasharray:4 3.4;stroke:#444" d="M527.4 210L543.4 256 M543.4 210L527.4 256"/>
<rect class="k" style="fill:#9a9a9a;stroke-width:0.7" x="520.8" y="206.6" width="3.8" height="59.3"/>
<rect class="k" style="fill:#c9c9c9;stroke-width:0.6;stroke:#666" x="520.8" y="264.4" width="31.4" height="2.2"/>
<rect class="fu" style="stroke:#555" x="487.2" y="122.2" width="14.3" height="37.5"/>
<path class="k" style="stroke-width:0.6;stroke-dasharray:3 2;stroke:#666" d="M489 125L499.6 140L489 157 M499.6 125L489 140L499.6 157"/>
<rect class="fu" style="stroke:#555" x="536.9" y="122.2" width="14.3" height="74.9"/>
<path class="k" style="stroke-width:0.6;stroke-dasharray:3 2;stroke:#666" d="M538.6 125L549.4 160L538.6 194 M549.4 125L538.6 160L549.4 194"/>
<circle class="fl" style="stroke:#666;stroke-dasharray:4.5 3" cx="568" cy="135.4" r="9.4"/>
<path class="fl" style="stroke:#555" d="M565.6 131.6q2.6-.4 2.6 2.6t2.8 2.6"/>
<rect class="fu" style="stroke:#777" x="593.1" y="302.4" width="30.5" height="13.8"/>
<ellipse class="fu" style="stroke-width:0.9" cx="608.4" cy="310.9" rx="8.4" ry="7.2"/>
<ellipse class="fl" style="stroke:#888" cx="608.4" cy="310.9" rx="6.8" ry="5.6"/>
<circle class="bk" cx="608.4" cy="308.6" r="0.9"/>
<rect class="fu" x="629.7" y="302.4" width="18.3" height="9.6" rx="1.5"/>
<ellipse class="fu" cx="638.8" cy="319.8" rx="6.2" ry="8.6"/>
<rect class="fu" style="stroke-width:0.9" x="653.6" y="310.2" width="27.6" height="39.4"/>
<rect class="fl" style="stroke:#777" x="655.4" y="312" width="24" height="35.8"/>
<path class="fl" style="stroke:#666" d="M656.2 313L678.6 347 M678.6 313L656.2 347"/>
<circle class="fl" cx="656.8" cy="305.2" r="1.6"/>
<circle class="fl" cx="661.4" cy="305.2" r="1.6"/>
<circle class="fl" cx="656.8" cy="308.6" r="1.2"/>
<circle class="fl" cx="661.4" cy="308.6" r="1.2"/>
<circle class="fl" cx="677.6" cy="306" r="1.8"/>
<line class="fl" x1="593.1" y1="376.2" x2="682.2" y2="376.2"/>
<path class="k" style="stroke-width:0.7;stroke-dasharray:5 4;stroke:#444" d="M596 356.6L680 374.6 M596 374.6L680 356.6"/>
<path class="k" style="stroke-width:0.6;stroke-dasharray:3 2;stroke:#555" d="M594 355.8H681"/>
<rect class="fu" style="stroke:#666" x="595.6" y="434.7" width="28.1" height="45.6"/>
<rect class="fu" style="stroke:#555" x="596.6" y="457" width="10" height="21"/>
<rect class="fu" style="stroke:#555" x="595.6" y="460.6" width="8.6" height="14"/>
<path class="fl" style="stroke:#444" d="M601.4 445.4l2.4-8.6v17.6Z M600.6 449.6h3"/>
<rect class="fu" style="stroke:#444" x="613.4" y="436.6" width="4.2" height="19"/>
<rect class="fl" style="stroke:#444" x="614.2" y="438" width="2.6" height="6"/>
<rect class="fu" x="627" y="448.8" width="16.6" height="18.2" rx="4.6"/>
<path class="fl" style="stroke-width:1.1" d="M642 449.6q3.6 8.6 0 16.8"/>
<path class="fl" style="stroke-width:1.1" d="M628.6 448.2h9 M628.6 467.6h9"/>
<path class="fu" style="stroke-width:0.9" d="M691.5 318.2h5a7.2 7.2 0 0 1 0 14.4h-5Z"/>
<path class="fl" style="stroke:#666" d="M693 320.6h3.4a4.8 4.8 0 0 1 0 9.6H693Z"/>
<circle class="bk" cx="698" cy="325.4" r="0.9"/>
<rect class="ol" x="699.2" y="502.6" width="25.8" height="14.4" rx="1.5"/>
<path class="ol" d="M701 506.4H723.4 M701 509.8H723.4 M701 513.2H723.4 M704 502.6V517 M720.4 502.6V517"/>
<rect class="ol" x="307.4" y="236" width="15.2" height="31.6" rx="3"/>
<path class="ol" d="M311 234.6V269 M315 234.6V269 M319 234.6V269 M305.6 243.4H324.4 M305.6 260.4H324.4"/>
<line class="k" style="stroke-width:0.7" x1="298.6" y1="432.6" x2="314.6" y2="432.6"/>
<rect class="bk" x="302.8" y="431.7" width="5" height="1.8"/>
<line class="k" style="stroke-width:0.7" x1="298.4" y1="87.6" x2="314.4" y2="87.6"/>
<rect class="bk" x="302.6" y="86.7" width="5" height="1.8"/>
<line class="k" style="stroke-width:0.7" x1="417.2" y1="87.6" x2="433.2" y2="87.6"/>
<rect class="bk" x="421.4" y="86.7" width="5" height="1.8"/>
<line class="k" style="stroke-width:0.7" x1="835.9" y1="158.4" x2="835.9" y2="170.4"/>
<rect class="bk" x="835" y="163.2" width="1.8" height="5"/>
<line class="k" style="stroke-width:0.7" x1="836" y1="430.5" x2="836" y2="442.5"/>
<rect class="bk" x="835.1" y="435.3" width="1.8" height="5"/>
<line class="k" style="stroke-width:0.7" x1="347.6" y1="513.6" x2="347.6" y2="525.6"/>
<rect class="bk" x="346.7" y="518.4" width="1.8" height="5"/>
<line class="k" style="stroke-width:0.7" x1="556.2" y1="513.6" x2="556.2" y2="525.6"/>
<rect class="bk" x="555.3" y="518.4" width="1.8" height="5"/>
<line class="k" style="stroke-width:0.7" x1="793.4" y1="512.5" x2="793.4" y2="524.5"/>
<rect class="bk" x="792.5" y="517.3" width="1.8" height="5"/>
<line class="k" style="stroke-width:0.7" x1="297.4" y1="254.4" x2="313.4" y2="254.4"/>
<rect class="bk" x="301.6" y="253.5" width="5" height="1.8"/>
<g transform="translate(721.6 137.6)"><path class="car" d="M13 .4C20 -.4 42 -.4 49 .4C54 1.4 57.6 5 58.4 10C59.6 18 61.4 28 61.6 40V100C61.6 120 61 135 59 143C57 151 50 157 40 159C34 160 28 160 22 159C12 157 5 151 3 143C1 135 .4 120 .4 100V40C.6 28 2.4 18 3.6 10C4.4 5 8 1.4 13 .4Z"/><path class="car" d="M14 3.4C22 2.4 40 2.4 48 3.4C52.6 4.4 55 7.4 55.8 11.6C57 19 58.4 29 58.6 40 M3.4 40C3.6 29 5 19 6.2 11.6C7 7.4 9.4 4.4 14 3.4"/><path class="car" d="M22 1.6L24 5.4H38L40 1.6 M9 6.4Q16 8.6 24 5.4 M53 6.4Q46 8.6 38 5.4"/><path class="car" d="M14 13.2Q31 11.2 48 13.2Q50.4 13.6 50.2 16L48.6 38.6Q48.4 41 46 41H16Q13.6 41 13.4 38.6L11.8 16Q11.6 13.6 14 13.2Z"/><path class="car" d="M16.6 16.2Q31 14.4 45.4 16.2Q46.8 16.4 46.6 18L45.6 36.4Q45.4 38.2 43.6 38.2H18.4Q16.6 38.2 16.4 36.4L15.4 18Q15.2 16.4 16.6 16.2Z"/><path class="car" d="M31 38.4V47.6 M11 41L9 93.4 M51 41L53 93.4 M13.4 41L11.6 93.4 M48.6 41L50.4 93.4"/><path class="car" d="M3.4 40Q3.6 36 6 36Q8 36.4 8 40L7 96 M58.6 40Q58.4 36 56 36Q54 36.4 54 40L55 96 M3.4 40V100 M58.6 40V100 M5.6 50V92 M56.4 50V92"/><path class="car" d="M9 93.4Q31 98.6 53 93.4 M9 95.6Q31 100.8 53 95.6 M9 93.4L4.4 116 M53 93.4L57.6 116 M11.6 95L7.6 114 M50.4 95L54.4 114"/><path class="car" d="M4.4 116Q31 125 57.6 116 M5.6 119.4Q31 128.4 56.4 119.4"/><path class="car" d="M1.4 101.4L-4.6 100.6L-3.4 105.4L2 105 M60.6 101.4L66.6 100.6L65.4 105.4L60 105"/><path class="car" d="M5.6 119.4L15 151 M56.4 119.4L47 151 M22.4 124.6L27.6 155 M39.6 124.6L34.4 155 M3.4 100C3.4 120 4 134 6 142C8 149 14 153.6 22 155.6C28 156.8 34 156.8 40 155.6C48 153.6 54 149 56 142C58 134 58.6 120 58.6 100"/><path class="car" d="M6.4 144Q10 151.6 18 153.6L16 150Q11 148 8.6 143.6Z M55.6 144Q52 151.6 44 153.6L46 150Q51 148 53.4 143.6Z"/></g>
<g transform="translate(721.8 318)"><path class="car" d="M13 .4C20 -.4 42 -.4 49 .4C54 1.4 57.6 5 58.4 10C59.6 18 61.4 28 61.6 40V100C61.6 120 61 135 59 143C57 151 50 157 40 159C34 160 28 160 22 159C12 157 5 151 3 143C1 135 .4 120 .4 100V40C.6 28 2.4 18 3.6 10C4.4 5 8 1.4 13 .4Z"/><path class="car" d="M14 3.4C22 2.4 40 2.4 48 3.4C52.6 4.4 55 7.4 55.8 11.6C57 19 58.4 29 58.6 40 M3.4 40C3.6 29 5 19 6.2 11.6C7 7.4 9.4 4.4 14 3.4"/><path class="car" d="M22 1.6L24 5.4H38L40 1.6 M9 6.4Q16 8.6 24 5.4 M53 6.4Q46 8.6 38 5.4"/><path class="car" d="M14 13.2Q31 11.2 48 13.2Q50.4 13.6 50.2 16L48.6 38.6Q48.4 41 46 41H16Q13.6 41 13.4 38.6L11.8 16Q11.6 13.6 14 13.2Z"/><path class="car" d="M16.6 16.2Q31 14.4 45.4 16.2Q46.8 16.4 46.6 18L45.6 36.4Q45.4 38.2 43.6 38.2H18.4Q16.6 38.2 16.4 36.4L15.4 18Q15.2 16.4 16.6 16.2Z"/><path class="car" d="M31 38.4V47.6 M11 41L9 93.4 M51 41L53 93.4 M13.4 41L11.6 93.4 M48.6 41L50.4 93.4"/><path class="car" d="M3.4 40Q3.6 36 6 36Q8 36.4 8 40L7 96 M58.6 40Q58.4 36 56 36Q54 36.4 54 40L55 96 M3.4 40V100 M58.6 40V100 M5.6 50V92 M56.4 50V92"/><path class="car" d="M9 93.4Q31 98.6 53 93.4 M9 95.6Q31 100.8 53 95.6 M9 93.4L4.4 116 M53 93.4L57.6 116 M11.6 95L7.6 114 M50.4 95L54.4 114"/><path class="car" d="M4.4 116Q31 125 57.6 116 M5.6 119.4Q31 128.4 56.4 119.4"/><path class="car" d="M1.4 101.4L-4.6 100.6L-3.4 105.4L2 105 M60.6 101.4L66.6 100.6L65.4 105.4L60 105"/><path class="car" d="M5.6 119.4L15 151 M56.4 119.4L47 151 M22.4 124.6L27.6 155 M39.6 124.6L34.4 155 M3.4 100C3.4 120 4 134 6 142C8 149 14 153.6 22 155.6C28 156.8 34 156.8 40 155.6C48 153.6 54 149 56 142C58 134 58.6 120 58.6 100"/><path class="car" d="M6.4 144Q10 151.6 18 153.6L16 150Q11 148 8.6 143.6Z M55.6 144Q52 151.6 44 153.6L46 150Q51 148 53.4 143.6Z"/></g>
<rect class="k" style="fill:#fff;stroke-width:0.7;stroke:#333" x="277.2" y="290.7" width="14.4" height="14.4" rx="1.2"/>
<rect class="k" style="fill:#808080;stroke-width:1.9;stroke:#111" x="279.2" y="292.7" width="10.4" height="10.4"/>
<rect class="k" style="fill:#fff;stroke-width:0.7;stroke:#333" x="277.2" y="442.4" width="14.4" height="14.4" rx="1.2"/>
<rect class="k" style="fill:#808080;stroke-width:1.9;stroke:#111" x="279.2" y="444.4" width="10.4" height="10.4"/>
<rect class="k" style="fill:#fff;stroke-width:0.7;stroke:#333" x="277.2" y="536.5" width="14.4" height="14.4" rx="1.2"/>
<rect class="k" style="fill:#808080;stroke-width:1.9;stroke:#111" x="279.2" y="538.5" width="10.4" height="10.4"/>
<rect class="k" style="fill:#fff;stroke-width:0.7;stroke:#333" x="428.2" y="536.5" width="14.4" height="14.4" rx="1.2"/>
<rect class="k" style="fill:#808080;stroke-width:1.9;stroke:#111" x="430.2" y="538.5" width="10.4" height="10.4"/>
<rect class="k" style="fill:#fff;stroke-width:0.7;stroke:#333" x="580.4" y="536.6" width="14.4" height="14.4" rx="1.2"/>
<rect class="k" style="fill:#808080;stroke-width:1.9;stroke:#111" x="582.4" y="538.6" width="10.4" height="10.4"/>
<circle class="bk" cx="274.6" cy="449.6" r="1.1"/>
<circle class="bk" cx="597" cy="543.8" r="1.2"/>
<circle class="bk" cx="821.6" cy="118.3" r="1.2"/>
<circle class="th" cx="845.2" cy="118.3" r="1.3"/>
<circle class="bk" cx="821.6" cy="491.5" r="1.2"/>
<circle class="th" cx="845.2" cy="491.5" r="1.3"/>
<line class="gr" style="stroke-dasharray:24 4 6.5 4" x1="284.4" y1="17.5" x2="284.4" y2="614.6" stroke-dashoffset="0"/>
<line class="gr" style="stroke-dasharray:24 4 6.5 4" x1="336.6" y1="17.5" x2="336.6" y2="614.6" stroke-dashoffset="0"/>
<line class="gr" style="stroke-dasharray:24 4 6.5 4" x1="482.9" y1="17.5" x2="482.9" y2="614.6" stroke-dashoffset="0"/>
<line class="gr" style="stroke-dasharray:24 4 6.5 4" x1="587.6" y1="17.5" x2="587.6" y2="614.6" stroke-dashoffset="0"/>
<line class="gr" style="stroke-dasharray:24 4 6.5 4" x1="687.2" y1="17.5" x2="687.2" y2="614.6" stroke-dashoffset="0"/>
<line class="gr" style="stroke-dasharray:24 4 6.5 4" x1="808.8" y1="17.5" x2="808.8" y2="614.6" stroke-dashoffset="0"/>
<line class="gr" style="stroke-dasharray:24 4 6.5 4" x1="214" y1="118.3" x2="907.8" y2="118.3" stroke-dashoffset="0"/>
<line class="gr" style="stroke-dasharray:24 4 6.5 4" x1="214" y1="139.3" x2="478" y2="139.3" stroke-dashoffset="0"/>
<line class="gr" style="stroke-dasharray:24 4 6.5 4" x1="443" y1="202.5" x2="907.8" y2="202.5" stroke-dashoffset="8"/>
<line class="gr" style="stroke-dasharray:24 4 6.5 4" x1="214" y1="298" x2="907.8" y2="298" stroke-dashoffset="5"/>
<line class="gr" style="stroke-dasharray:24 4 6.5 4" x1="214" y1="449.6" x2="584" y2="449.6" stroke-dashoffset="12"/>
<line class="gr" style="stroke-dasharray:24 4 6.5 4" x1="443" y1="491.5" x2="907.8" y2="491.5" stroke-dashoffset="3"/>
<line class="gr" style="stroke-dasharray:24 4 6.5 4" x1="214" y1="543.6" x2="907.8" y2="543.6" stroke-dashoffset="16"/>
<path class="gr" d="M284.4 3.5v-3.4 M284.4 17.5v3.4 M277.4 10.5h-3.4 M291.4 10.5h3.4"/>
<circle class="gr" style="fill:#fff;stroke-width:1" cx="284.4" cy="10.5" r="7"/>
<text class="c" transform="translate(284.4 10.5) rotate(90)" x="0" y="4.2">А</text>
<path class="gr" d="M284.4 614.6v-3.4 M284.4 628.6v3.4 M277.4 621.6h-3.4 M291.4 621.6h3.4"/>
<circle class="gr" style="fill:#fff;stroke-width:1" cx="284.4" cy="621.6" r="7"/>
<text class="c" transform="translate(284.4 621.6) rotate(90)" x="0" y="4.2">А</text>
<path class="gr" d="M336.6 3.5v-3.4 M336.6 17.5v3.4 M329.6 10.5h-3.4 M343.6 10.5h3.4"/>
<circle class="gr" style="fill:#fff;stroke-width:1" cx="336.6" cy="10.5" r="7"/>
<text class="c" transform="translate(336.6 10.5) rotate(90)" x="0" y="4.2">Б</text>
<path class="gr" d="M336.6 614.6v-3.4 M336.6 628.6v3.4 M329.6 621.6h-3.4 M343.6 621.6h3.4"/>
<circle class="gr" style="fill:#fff;stroke-width:1" cx="336.6" cy="621.6" r="7"/>
<text class="c" transform="translate(336.6 621.6) rotate(90)" x="0" y="4.2">Б</text>
<path class="gr" d="M483.2 3.5v-3.4 M483.2 17.5v3.4 M476.2 10.5h-3.4 M490.2 10.5h3.4"/>
<circle class="gr" style="fill:#fff;stroke-width:1" cx="483.2" cy="10.5" r="7"/>
<text class="c" transform="translate(483.2 10.5) rotate(90)" x="0" y="4.2">В</text>
<path class="gr" d="M483.2 614.6v-3.4 M483.2 628.6v3.4 M476.2 621.6h-3.4 M490.2 621.6h3.4"/>
<circle class="gr" style="fill:#fff;stroke-width:1" cx="483.2" cy="621.6" r="7"/>
<text class="c" transform="translate(483.2 621.6) rotate(90)" x="0" y="4.2">В</text>
<path class="gr" d="M587.6 3.5v-3.4 M587.6 17.5v3.4 M580.6 10.5h-3.4 M594.6 10.5h3.4"/>
<circle class="gr" style="fill:#fff;stroke-width:1" cx="587.6" cy="10.5" r="7"/>
<text class="c" transform="translate(587.6 10.5) rotate(90)" x="0" y="4.2">Г</text>
<path class="gr" d="M587.6 614.6v-3.4 M587.6 628.6v3.4 M580.6 621.6h-3.4 M594.6 621.6h3.4"/>
<circle class="gr" style="fill:#fff;stroke-width:1" cx="587.6" cy="621.6" r="7"/>
<text class="c" transform="translate(587.6 621.6) rotate(90)" x="0" y="4.2">Г</text>
<path class="gr" d="M687.2 3.5v-3.4 M687.2 17.5v3.4 M680.2 10.5h-3.4 M694.2 10.5h3.4"/>
<circle class="gr" style="fill:#fff;stroke-width:1" cx="687.2" cy="10.5" r="7"/>
<text class="c" transform="translate(687.2 10.5) rotate(90)" x="0" y="4.2">Д</text>
<path class="gr" d="M687.2 614.6v-3.4 M687.2 628.6v3.4 M680.2 621.6h-3.4 M694.2 621.6h3.4"/>
<circle class="gr" style="fill:#fff;stroke-width:1" cx="687.2" cy="621.6" r="7"/>
<text class="c" transform="translate(687.2 621.6) rotate(90)" x="0" y="4.2">Д</text>
<path class="gr" d="M808.8 3.5v-3.4 M808.8 17.5v3.4 M801.8 10.5h-3.4 M815.8 10.5h3.4"/>
<circle class="gr" style="fill:#fff;stroke-width:1" cx="808.8" cy="10.5" r="7"/>
<text class="c" transform="translate(808.8 10.5) rotate(90)" x="0" y="4.2">Е</text>
<path class="gr" d="M808.8 614.6v-3.4 M808.8 628.6v3.4 M801.8 621.6h-3.4 M815.8 621.6h3.4"/>
<circle class="gr" style="fill:#fff;stroke-width:1" cx="808.8" cy="621.6" r="7"/>
<text class="c" transform="translate(808.8 621.6) rotate(90)" x="0" y="4.2">Е</text>
<path class="gr" d="M207 111.3v-3.4 M207 125.3v3.4 M200 118.3h-3.4 M214 118.3h3.4"/>
<circle class="gr" style="fill:#fff;stroke-width:1" cx="207" cy="118.3" r="7"/>
<text class="c" transform="translate(207 118.3) rotate(90)" x="0" y="4.2">1</text>
<path class="gr" d="M207 132.3v-3.4 M207 146.3v3.4 M200 139.3h-3.4 M214 139.3h3.4"/>
<circle class="gr" style="fill:#fff;stroke-width:1" cx="207" cy="139.3" r="7"/>
<text class="c" transform="translate(207 139.3) rotate(90)" x="0" y="4.2">2</text>
<path class="gr" d="M207 291v-3.4 M207 305v3.4 M200 298h-3.4 M214 298h3.4"/>
<circle class="gr" style="fill:#fff;stroke-width:1" cx="207" cy="298" r="7"/>
<text class="c" transform="translate(207 298) rotate(90)" x="0" y="4.2">4</text>
<path class="gr" d="M207 442.6v-3.4 M207 456.6v3.4 M200 449.6h-3.4 M214 449.6h3.4"/>
<circle class="gr" style="fill:#fff;stroke-width:1" cx="207" cy="449.6" r="7"/>
<text class="c" transform="translate(207 449.6) rotate(90)" x="0" y="4.2">5</text>
<path class="gr" d="M207 536.6v-3.4 M207 550.6v3.4 M200 543.6h-3.4 M214 543.6h3.4"/>
<circle class="gr" style="fill:#fff;stroke-width:1" cx="207" cy="543.6" r="7"/>
<text class="c" transform="translate(207 543.6) rotate(90)" x="0" y="4.2">7</text>
<path class="gr" d="M914.8 111.3v-3.4 M914.8 125.3v3.4 M907.8 118.3h-3.4 M921.8 118.3h3.4"/>
<circle class="gr" style="fill:#fff;stroke-width:1" cx="914.8" cy="118.3" r="7"/>
<text class="c" transform="translate(914.8 118.3) rotate(90)" x="0" y="4.2">1</text>
<path class="gr" d="M914.8 195.5v-3.4 M914.8 209.5v3.4 M907.8 202.5h-3.4 M921.8 202.5h3.4"/>
<circle class="gr" style="fill:#fff;stroke-width:1" cx="914.8" cy="202.5" r="7"/>
<text class="c" transform="translate(914.8 202.5) rotate(90)" x="0" y="4.2">3</text>
<path class="gr" d="M914.8 291v-3.4 M914.8 305v3.4 M907.8 298h-3.4 M921.8 298h3.4"/>
<circle class="gr" style="fill:#fff;stroke-width:1" cx="914.8" cy="298" r="7"/>
<text class="c" transform="translate(914.8 298) rotate(90)" x="0" y="4.2">4</text>
<path class="gr" d="M914.8 484.5v-3.4 M914.8 498.5v3.4 M907.8 491.5h-3.4 M921.8 491.5h3.4"/>
<circle class="gr" style="fill:#fff;stroke-width:1" cx="914.8" cy="491.5" r="7"/>
<text class="c" transform="translate(914.8 491.5) rotate(90)" x="0" y="4.2">6</text>
<path class="gr" d="M914.8 536.6v-3.4 M914.8 550.6v3.4 M907.8 543.6h-3.4 M921.8 543.6h3.4"/>
<circle class="gr" style="fill:#fff;stroke-width:1" cx="914.8" cy="543.6" r="7"/>
<text class="c" transform="translate(914.8 543.6) rotate(90)" x="0" y="4.2">7</text>
<text class="t" x="345.7" y="279.2" font-size="10.1" textLength="186.3" lengthAdjust="spacingAndGlyphs">ДНЕВНА, ТРАПЕЗАРИЯ И КУХНЯ</text>
<text class="t" x="419.3" y="291.8" font-size="10.1" textLength="42.7" lengthAdjust="spacingAndGlyphs">43.29м²</text>
<text class="t" x="504.7" y="145.8" font-size="10.1" textLength="37.5" lengthAdjust="spacingAndGlyphs">КИЛЕР</text>
<text class="t" x="506.1" y="158.3" font-size="10.1" textLength="35.2" lengthAdjust="spacingAndGlyphs">3.29м²</text>
<text class="t" x="578" y="145.8" font-size="10.1" textLength="39.6" lengthAdjust="spacingAndGlyphs">СКЛАД</text>
<text class="t" x="580.6" y="158.3" font-size="10.1" textLength="34" lengthAdjust="spacingAndGlyphs">4.65м²</text>
<text class="t" x="734.3" y="279" font-size="10.1" textLength="39.9" lengthAdjust="spacingAndGlyphs">ГАРАЖ</text>
<text class="t" x="733.2" y="291.8" font-size="10.1" textLength="42.1" lengthAdjust="spacingAndGlyphs">37.09м²</text>
<text class="t" x="627.5" y="323.8" font-size="10.1" textLength="31.4" lengthAdjust="spacingAndGlyphs">БАНЯ</text>
<text class="t" x="625.8" y="335.9" font-size="10.1" textLength="35.2" lengthAdjust="spacingAndGlyphs">3.18м²</text>
<text class="t" x="542.9" y="399.6" font-size="10.1" textLength="37.9" lengthAdjust="spacingAndGlyphs">АНТРЕ</text>
<text class="t" x="540.7" y="411.6" font-size="10.1" textLength="42.4" lengthAdjust="spacingAndGlyphs">18.21м²</text>
<text class="t" x="616.2" y="399.6" font-size="10.1" textLength="53.6" lengthAdjust="spacingAndGlyphs">КАБИНЕТ</text>
<text class="t" x="625.1" y="411.6" font-size="10.1" textLength="36.6" lengthAdjust="spacingAndGlyphs">9.75м²</text>
<text class="t" x="398.1" y="509.3" font-size="10.1" textLength="54.6" lengthAdjust="spacingAndGlyphs">ВЕРАНДА</text>
<text class="tb" x="524" y="602.8" font-size="18" textLength="74.4" lengthAdjust="spacingAndGlyphs">15.60 m</text>
<text class="tb" transform="translate(238.9 345.4) rotate(-90)" x="0" y="0" font-size="18" textLength="74.6" lengthAdjust="spacingAndGlyphs">12.70 m</text>
<path class="bk" d="M234.7 103L245 156.6H237.1V214.6H232.4V156.6H224.2Z"/>
<path class="bk" d="M234.2 553.3L223.4 513H231.8V457H236.6V513H244.8Z"/>
<path class="bk" d="M271.2 596.8L313.8 587V594.6H385.8V599.2H313.8V607Z"/>
<path class="bk" d="M820.4 596.6L767.6 586.6V594.4H691.6V599H767.6V606.8Z"/>
<rect x="989" y="587" width="126" height="39.6" fill="#1da5e3"/>
<text y="617.3" font-family="'Liberation Sans',sans-serif" font-size="29.4" fill="#0b2038"><tspan x="991.4 1000 1017.6">1SP</tspan><tspan x="1030.4 1041.6" fill="#eef9ff">DD</tspan><tspan x="1060.6" y="616.8" font-size="12" textLength="48" lengthAdjust="spacingAndGlyphs">.COM</tspan></text>
</svg>
</body>
</html>
